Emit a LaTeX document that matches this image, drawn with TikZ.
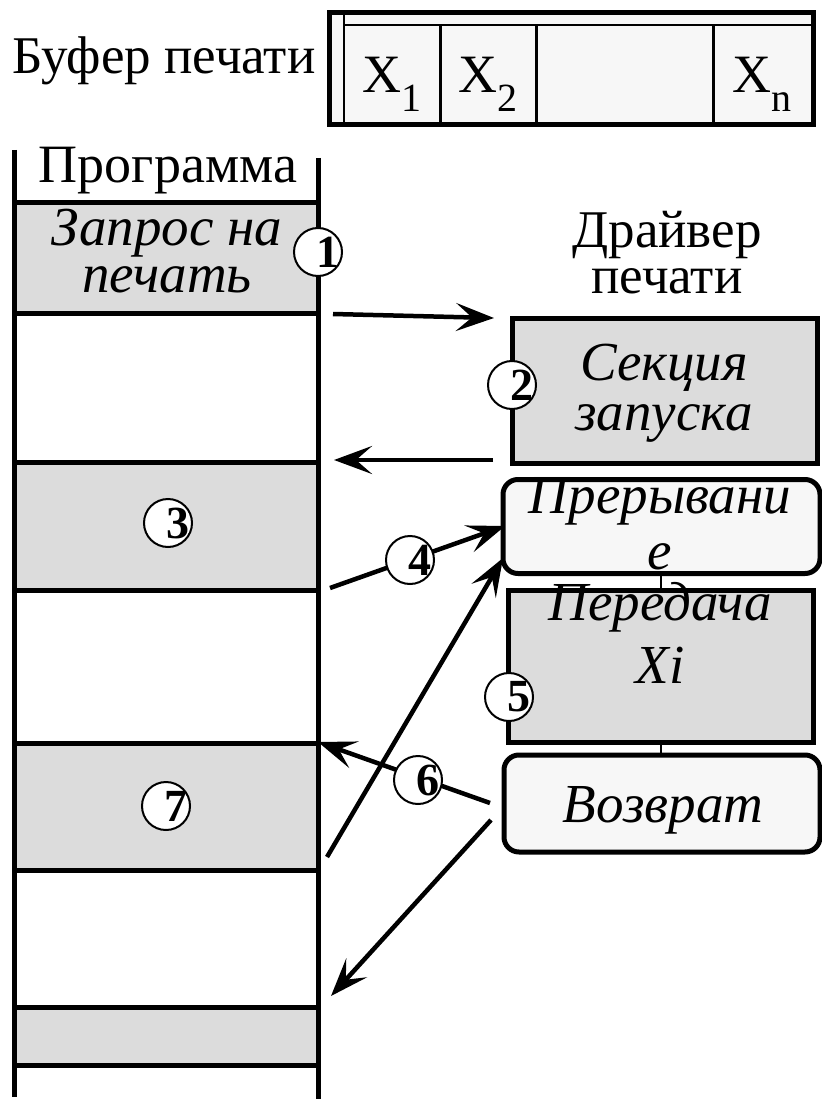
\documentclass[tikz,border=0pt]{standalone}
\usepackage{fontspec}
\setmainfont{Liberation Serif}
\usetikzlibrary{arrows.meta,calc}
\definecolor{bandgray}{HTML}{DCDCDC}
\definecolor{paper}{HTML}{F7F7F7}

\begin{document}
\begin{tikzpicture}[x=1pt,y=-1pt,
  txt/.style={anchor=base, inner sep=0pt, align=center, font=\fontsize{53}{46}\selectfont},
  itxt/.style={anchor=base, inner sep=0pt, align=center, font=\fontsize{55}{50}\selectfont\itshape},
  cell/.style={anchor=base, inner sep=0pt, font=\fontsize{54}{54}\selectfont},
  numfont/.style={font=\fontsize{46}{46}\selectfont\bfseries, inner sep=0pt},
  stepnum/.style={circle, draw, line width=2pt, fill=white, minimum size=48pt,
    inner sep=0pt, label={[numfont, xshift=10pt]center:#1}},
  graybox/.style={draw, line width=5pt, fill=bandgray, inner sep=0pt},
  softbox/.style={draw, line width=5pt, fill=paper, rounded corners=15pt, inner sep=0pt},
  band/.style={fill=bandgray},
  rule/.style={line width=5pt},
  link/.style={line width=2.5pt},
  flow/.style={line width=4.5pt, -{Stealth[length=38pt,width=28pt,inset=16pt]}},
]
\useasboundingbox (0,0) rectangle (821,1099);
\fill[white] (0,0) rectangle (821,1099);

% ---------- print buffer ----------
\node[txt] (buflabel) at (164,74) {Буфер печати};
\node[draw, line width=5pt, fill=paper, minimum width=484pt, minimum height=112pt,
      inner sep=0pt] (buf) at (571,69) {};
\draw[line width=2pt] (buf.north west -| 344,0) -- (buf.south west -| 344,0);
\draw[line width=2pt] (344,25) -- (buf.east |- 0,25);
\foreach \x in {440,536,713}
  \draw[line width=3pt] (\x,25) -- (\x,125);
\node[cell] (x1) at (392,93) {X\raisebox{-19pt}{\fontsize{40}{40}\selectfont 1}};
\node[cell] (x2) at (488,93) {X\raisebox{-19pt}{\fontsize{40}{40}\selectfont 2}};
\node[cell] (xn) at (762,93) {X\raisebox{-19pt}{\fontsize{40}{40}\selectfont n}};

% ---------- program column ----------
\node[txt, font=\fontsize{54}{54}\selectfont] (prog) at (168,183) {Программа};
\fill[band] (14,203) rectangle (318,313);
\fill[band] (14,462) rectangle (318,590);
\fill[band] (14,743) rectangle (318,870);
\fill[band] (14,1007) rectangle (318,1065);
\foreach \y in {203,313,462,590,743,870,1007,1065}
  \draw[rule] (14,\y) -- (318,\y);
\draw[rule] (14,150) -- (14,1097);
\draw[rule] (318,158) -- (318,1099);

% multi-line labels are placed by the baseline of their last line
\node[itxt, font=\fontsize{55}{47}\selectfont\itshape] (req) at (167,292)
  {Запрос на\\печать};

% ---------- driver ----------
\node[txt] (drv) at (667,293) {Драйвер\\печати};

\node[graybox, minimum width=305pt, minimum height=145pt] (start) at (664.5,390.5) {};
\node[itxt] (startlbl) at (664,430) {Секция\\запуска};

\node[softbox, minimum width=317pt, minimum height=94pt] (intr) at (661.5,526.5) {};
\node[itxt, font=\fontsize{55}{56}\selectfont\itshape] (intrlbl) at (660,569)
  {Прерывани\\е};

\node[graybox, minimum width=305pt, minimum height=152pt] (send) at (660.5,666) {};
\node[itxt, font=\fontsize{55}{63}\selectfont\itshape] (sendlbl) at (660,683)
  {Передача\\Xi};

\node[softbox, minimum width=316pt, minimum height=97pt] (ret) at (662,803.5) {};
\node[itxt] (retlbl) at (663,822) {Возврат};

\draw[link] (intr.south -| 661,0) -- (send.north -| 661,0);
\draw[link] (send.south -| 661,0) -- (ret.north -| 661,0);

% ---------- transfers of control ----------
\coordinate (a1s) at (333,314);
\coordinate (a1e) at (494,318);
\coordinate (a2s) at (493,460);
\coordinate (a2e) at (334,460);
\coordinate (a3s) at (330,588);
\coordinate (a3e) at (505,526);
\coordinate (a4s) at (327,857);
\coordinate (a4e) at (503,558);
\coordinate (a6s) at (490,803);
\coordinate (a6e) at (318,742);
\coordinate (a7s) at (491,820);
\coordinate (a7e) at (331,996);

\draw[flow] (a1s) -- (a1e);
\draw[flow] (a2s) -- (a2e);
\draw[flow] (a3s) -- (a3e);
\draw[flow] (a4s) -- (a4e);
\draw[flow] (a6s) -- (a6e);
\draw[flow] (a7s) -- (a7e);

% ---------- step numbers ----------
\node[stepnum=1] (n1) at (318,252) {};
\node[stepnum=2] (n2) at (512,385) {};
\node[stepnum=3] (n3) at (168,523) {};
\node[stepnum=4] (n4) at (410,560) {};
\node[stepnum=5] (n5) at (509,697) {};
\node[stepnum=6] (n6) at (418,780) {};
\node[stepnum=7] (n7) at (166,806) {};
\end{tikzpicture}
\end{document}
